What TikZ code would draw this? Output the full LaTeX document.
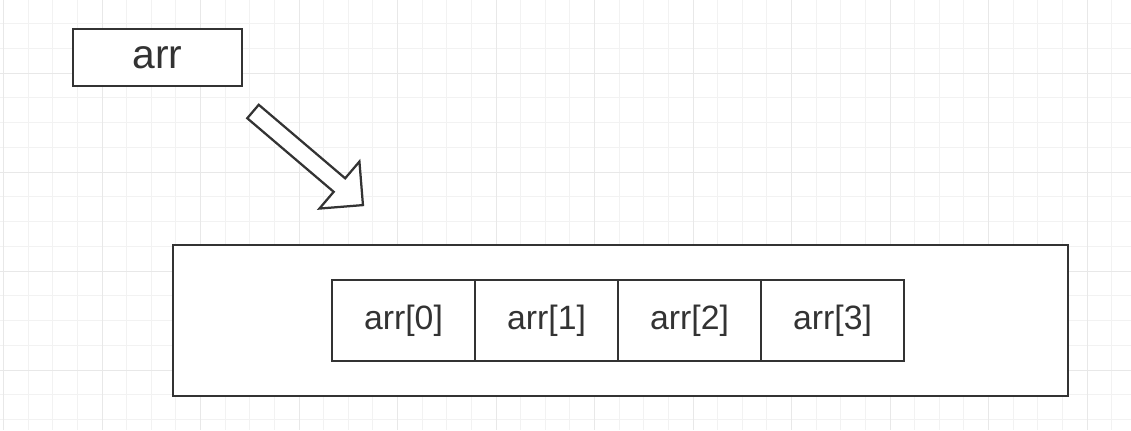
\documentclass[tikz,border=0pt]{standalone}
\usepackage{fontspec}
\setmainfont{Liberation Sans}
\usetikzlibrary{positioning}
\definecolor{inkgray}{HTML}{333333}
\definecolor{gridminor}{HTML}{F2F2F2}
\definecolor{gridmajor}{HTML}{E8E8E8}
\tikzstyle{pointer} = [rectangle, draw=inkgray, line width=1.8pt, minimum width=4.225cm, minimum height=1.425cm, inner sep=0pt, outer sep=0pt, text=inkgray, font=\fontsize{29}{34}\selectfont]
\tikzstyle{frame} = [rectangle, draw=inkgray, line width=1.8pt, minimum width=22.375cm, minimum height=3.775cm, inner sep=0pt, outer sep=0pt]
\tikzstyle{cell} = [rectangle, draw=inkgray, line width=1.6pt, minimum width=3.575cm, minimum height=2.025cm, inner sep=0pt, outer sep=0pt, text=inkgray, font=\fontsize{24}{29}\selectfont]
\tikzstyle{blockarrow} = [draw=inkgray, line width=1.6pt, fill=white, line join=miter]
\begin{document}
\begin{tikzpicture}[x=0.025cm, y=-0.025cm]
  \useasboundingbox (0,0) rectangle (1131,430);
  \fill[white] (0,0) rectangle (1131,430);
  % background grid
  \foreach \k in {0,...,46}
    \draw[gridminor, line width=0.6pt] ({3.5+24.625*\k},0) -- ({3.5+24.625*\k},430);
  \foreach \k in {0,...,18}
    \draw[gridminor, line width=0.6pt] (0,{-1.25+24.75*\k}) -- (1131,{-1.25+24.75*\k});
  \foreach \k in {0,...,11}
    \draw[gridmajor, line width=0.7pt] ({3.5+98.5*\k},0) -- ({3.5+98.5*\k},430);
  \foreach \k in {0,...,3}
    \draw[gridmajor, line width=0.7pt] (0,{73+99*\k}) -- (1131,{73+99*\k});

  \node (arr) [pointer, fill=white] at (157.5,57.5) {arr};
  \node (memory) [frame, fill=white] at (620.5,320.5) {};
  \node (cell0) [cell] at (403.5,320.5) {arr[0]};
  \node (cell1) [cell, right=0pt of cell0] {arr[1]};
  \node (cell2) [cell, right=0pt of cell1] {arr[2]};
  \node (cell3) [cell, right=0pt of cell2] {arr[3]};

  % hollow arrow from arr towards the array
  \begin{scope}[shift={(253,111.5)}, rotate=-40.4]
    \draw[blockarrow] (0,-8.85) -- (113.5,-8.85) -- (113.5,-30.85) -- (144.4,0)
      -- (113.5,30.85) -- (113.5,8.85) -- (0,8.85) -- cycle;
  \end{scope}
\end{tikzpicture}
\end{document}
